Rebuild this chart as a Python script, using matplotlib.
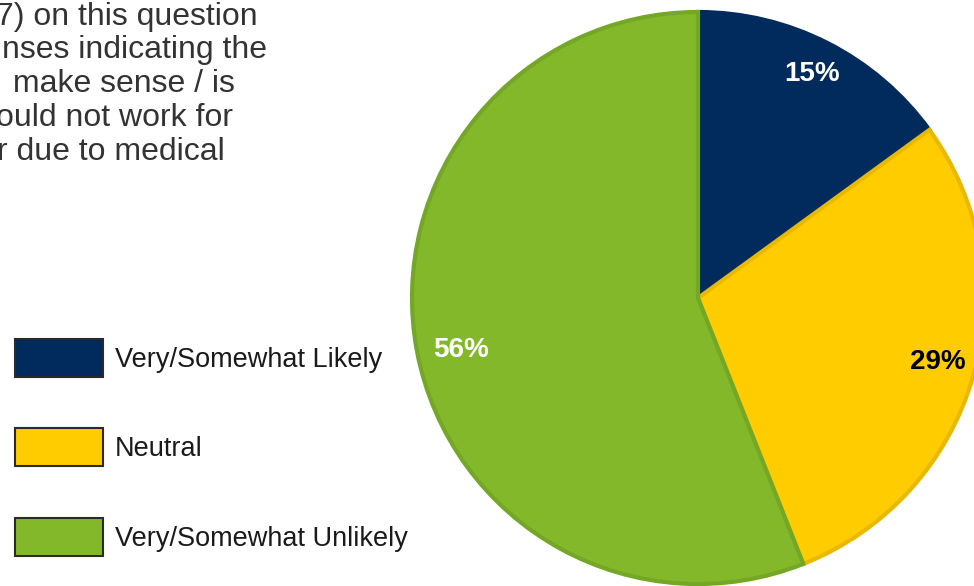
import matplotlib
matplotlib.use("Agg")
import matplotlib.pyplot as plt
from matplotlib.patches import Patch

# Datos del gráfico
categories = ["Very/Somewhat Likely", "Neutral", "Very/Somewhat Unlikely"]
values = [15, 29, 56]
pct_labels = ["15%", "29%", "56%"]
text_lines = [
    "7) on this question",
    "nses indicating the",
    " make sense / is",
    "ould not work for",
    "r due to medical",
]

colors = ["#002b5c", "#ffcc00", "#84b82b"]
edge_colors = ["#002b5c", "#e8b900", "#74a726"]
label_colors = ["white", "black", "white"]

plt.rcParams["font.family"] = ["Liberation Sans", "DejaVu Sans"]

fig = plt.figure(figsize=(9.74, 5.86), dpi=100)

# Texto recortado arriba a la izquierda (cortado igual que en el original)
x_offsets = [-0.004, 0.002, 0.004, -0.004, -0.003]
baselines = [25, 58, 92, 126, 160]
for line, xo, yb in zip(text_lines, x_offsets, baselines):
    fig.text(xo, 1 - yb / 586, line, fontsize=23, color="#333333",
             ha="left", va="baseline")

# Gráfico circular
ax = fig.add_axes([412 / 974, 2 / 586, 572 / 974, 572 / 586])
wedges, texts, autotexts = ax.pie(
    values, colors=colors, startangle=90, counterclock=False,
    autopct=lambda p: "", pctdistance=0.88, radius=1,
    wedgeprops=dict(linewidth=3),
)
for w, ec in zip(wedges, edge_colors):
    w.set_edgecolor(ec)
for t, lab, c in zip(autotexts, pct_labels, label_colors):
    t.set_text(lab)
    t.set_color(c)
    t.set_fontsize(20)
    t.set_fontweight("bold")
# La etiqueta del 29% está más abajo en el original
autotexts[1].set_position((0.839, -0.224))
autotexts[2].set_position((-0.829, -0.182))
ax.set_xlim(-1, 1)
ax.set_ylim(-1, 1)
ax.set_aspect("equal")
ax.axis("off")

# Leyenda
handles = [Patch(facecolor=c, edgecolor="#2a2a2a", linewidth=1.5) for c in colors]
fig.legend(handles, categories, loc="upper left",
           bbox_to_anchor=(15 / 974, 1 - 339 / 586), frameon=False,
           fontsize=19.5, handlelength=3.25, handleheight=1.78,
           labelspacing=1.9, handletextpad=0.45, borderpad=0,
           borderaxespad=0, labelcolor="#1a1a1a")

fig.savefig("out.png", dpi=100)
